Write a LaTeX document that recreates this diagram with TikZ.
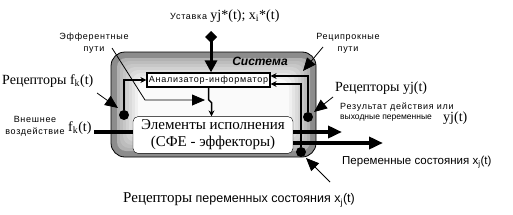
\documentclass[tikz,border=0pt]{standalone}
\usepackage{fontspec}
\setmainfont{Liberation Serif}
\setsansfont{Liberation Sans}
\newfontfamily\spacedsans[LetterSpace=8]{Liberation Sans}
\usetikzlibrary{arrows.meta,positioning}

\tikzset{
  txtsmall/.style={font=\spacedsans\fontsize{9}{12}\selectfont, inner sep=0pt},
  txtmid/.style={font=\sffamily\fontsize{11.5}{13}\selectfont, inner sep=0pt},
  txtbig/.style={font=\rmfamily\fontsize{14}{16}\selectfont, inner sep=0pt},
  recdot/.style={circle, fill=black, minimum size=10pt, inner sep=0pt},
  feed/.style={line width=1.5pt, -{Stealth[length=6pt,width=6pt]}},
  leader/.style={line width=0.8pt, -{Triangle[length=13pt,width=11pt]}},
  thickout/.style={line width=4.5pt, -{Triangle[length=14pt,width=12pt]}},
}

\begin{document}
\begin{tikzpicture}[x=1pt,y=-1pt]
\useasboundingbox[fill=white] (0,0) rectangle (513,214);

% system frame with stepped shading
\draw[fill=black!45!white, rounded corners=14pt, line width=0.8pt] (111,52) rectangle (316,157);
\foreach \i in {0,...,7}{
  \pgfmathtruncatemacro\gr{30-4*\i}
  \pgfmathsetmacro\d{6+3*\i}
  \fill[black!\gr!white, rounded corners=9pt] (111+\d,52+\d) rectangle (316-\d,157-\d);
}
\node[font=\sffamily\bfseries\itshape\fontsize{12}{13}\selectfont] (systitle) at (260,61) {Система};

% inner blocks
\node[draw, line width=1.2pt, fill=white, minimum width=123pt, minimum height=14pt, txtsmall] (anal) at (208.5,80) {Анализатор-информатор};
\node[draw, fill=white, rounded corners=5pt, minimum width=160pt, minimum height=36pt, align=center, font=\rmfamily\fontsize{15}{17}\selectfont] (exec) at (213,135) {Элементы исполнения\\(СФЕ - эффекторы)};

% receptor dots
\node[recdot] (dotF) at (124,115) {};
\node[recdot] (dotY) at (308,117) {};
\node[recdot] (dotX) at (301,152) {};

% feedback paths
\draw[feed] (dotF) |- (anal.west);
\draw[feed] (dotY) |- ([yshift=4pt]anal.east);
\draw[feed] (dotX) |- ([yshift=-4pt]anal.east);
\draw[feed] (anal.south) -- ++(0,12) -- ++(3,3) coordinate (jog) -- (jog |- exec.north);

% setpoint
\node[txtsmall, anchor=west] (setLbl) at (170,16) {Уставка};
\node[txtbig, anchor=base west] (setVal) at ([xshift=3pt]setLbl.base east) {yj*(t); x\textsubscript{i}*(t)};
\coordinate (setTop) at (211,31);
\draw[line width=3pt, {Kite[length=12pt,width=12pt,inset=6pt]}-{Triangle[length=12pt,width=12pt]}] (setTop) -- (setTop |- anal.north);

% input
\node[txtsmall, align=center] (extLbl) at (35,126) {Внешнее\\воздействие};
\node[txtbig, anchor=west] (extF) at (68,128) {f\textsubscript{k}(t)};
\coordinate (inY) at (94,132);
\draw[line width=4.5pt] (inY) -- (exec.west |- inY);

% outputs
\coordinate (outY) at (342,132);
\coordinate (outX) at (383,143);
\draw[thickout] (exec.east |- outY) -- (outY);
\draw[thickout] (exec.east |- outX) -- (outX);

% labels and leaders
\node[txtsmall, align=center] (effLbl) at (94,43) {Эфферентные\\пути};
\coordinate (effA) at (112,48);
\coordinate (effB) at (145,100);
\coordinate (effTip) at (205,100);
\draw[leader] (effA) -- (effB) -- (effTip);

\node[txtsmall, align=center] (recipLbl) at (348,43) {Реципрокные\\пути};
\coordinate (recipA) at (323,47);
\coordinate (recipTip) at (303,71);
\draw[leader] (recipA) -- (recipTip);

\node[txtbig, anchor=west] (recF) at (2,81) {Рецепторы f\textsubscript{k}(t)};
\coordinate (recFA) at (97,93);
\coordinate (recFTip) at (118,108);
\draw[leader] (recFA) -- (recFTip);

\node[txtbig, anchor=west] (recY) at (335,88) {Рецепторы yj(t)};
\coordinate (recYA) at (333,97);
\coordinate (recYTip) at (314,112);
\draw[leader] (recYA) -- (recYTip);

\node[txtsmall, anchor=west] (resA) at (340,107) {Результат действия или};
\node[font=\sffamily\fontsize{8.5}{10}\selectfont, inner sep=0pt, anchor=west] (resB) at (340,118) {выходные переменные};
\node[txtbig, anchor=west] (resY) at (443,118) {yj(t)};

\node[txtmid, anchor=west] (stateLbl) at (342,162) {Переменные состояния x\textsubscript{j}(t)};
\coordinate (stateA) at (330,182);
\coordinate (stateTip) at (306,158);
\draw[leader] (stateA) -- (stateTip);

\node[font=\sffamily\fontsize{12.5}{14}\selectfont, inner sep=0pt, anchor=west] (recXLbl) at (123,200) {{\rmfamily\fontsize{15}{16}\selectfont Рецепторы} переменных состояния x\textsubscript{j}(t)};
\end{tikzpicture}
\end{document}
